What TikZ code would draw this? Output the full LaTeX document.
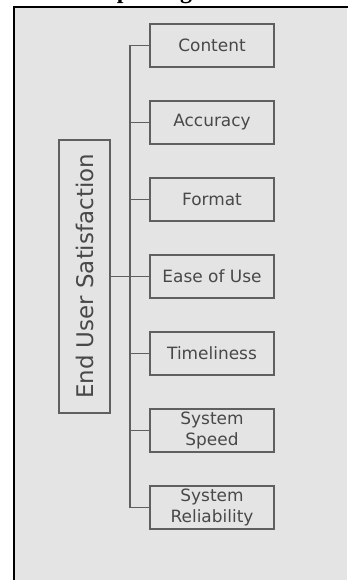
\documentclass[tikz,border=0pt]{standalone}
\usepackage{fontspec}
\setmainfont{DejaVu Sans}
\newfontfamily\titlefont{Liberation Serif}
\definecolor{panel}{RGB}{228,228,228}
\definecolor{linegray}{RGB}{95,95,95}
\definecolor{textgray}{RGB}{72,72,72}
\begin{document}
\begin{tikzpicture}[x=1bp,y=-1bp,
  leaf/.style={draw=linegray, line width=1.4bp, minimum width=124bp, minimum height=43bp,
    inner sep=0pt, font=\fontsize{17}{21}\selectfont, text=textgray, align=center},
  rootbox/.style={draw=linegray, line width=1.4bp, rotate=90, minimum width=273bp,
    minimum height=51bp, inner sep=0pt, font=\fontsize{23}{27}\selectfont, text=textgray},
  wire/.style={draw=linegray, line width=1.4bp}]
\useasboundingbox (0,0) rectangle (347,580);
\fill[white] (0,0) rectangle (347,580);
\fill[panel] (13.5,7) rectangle (347,580);
\draw[black, line width=2bp] (13.5,590) -- (13.5,7) -- (350,7);
\node[anchor=base west, inner sep=0pt, font=\titlefont\bfseries\fontsize{24}{28}\selectfont] (title) at (53,-1) {Concept Diagram};

\node[rootbox] (root) at (84.5,276.5) {End User Satisfaction};

\node[leaf] (c1) at (212,45.5) {Content};
\node[leaf] (c2) at (212,122.5) {Accuracy};
\node[leaf] (c3) at (212,199.5) {Format};
\node[leaf] (c4) at (212,276.5) {Ease of Use};
\node[leaf] (c5) at (212,353.5) {Timeliness};
\node[leaf] (c6) at (212,430.5) {System\\Speed};
\node[leaf] (c7) at (212,507.5) {System\\Reliability};

\coordinate (bus) at (130,0);
\draw[wire] (c1.west -| bus) -- (c7.west -| bus);
\foreach \n in {c1,c2,c3,c4,c5,c6,c7}{
  \draw[wire] (\n.west) -- (\n.west -| bus);
}
\draw[wire] (root.south) -- (root.south -| bus);
\end{tikzpicture}
\end{document}
